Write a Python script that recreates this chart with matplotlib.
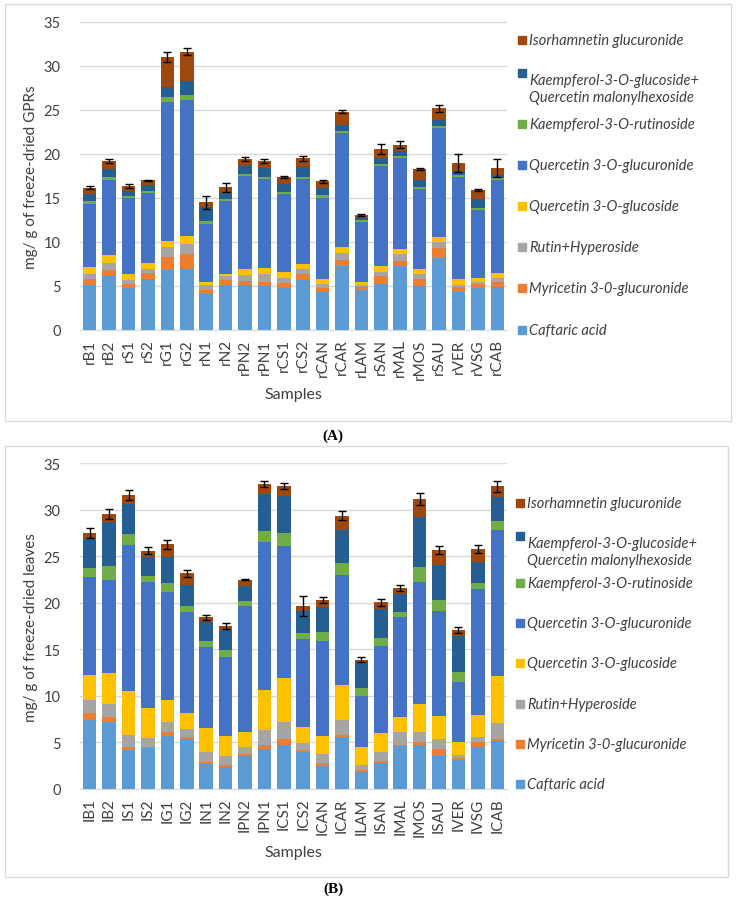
import matplotlib
matplotlib.use("Agg")
import matplotlib.pyplot as plt
from matplotlib.patches import Rectangle
import numpy as np

plt.rcParams['font.family'] = ['Lato', 'DejaVu Sans']

components = ["Caftaric acid", "Myricetin 3-0-glucuronide", "Rutin+Hyperoside",
              "Quercetin 3-O-glucoside", "Quercetin 3-O-glucuronide",
              "Kaempferol-3-O-rutinoside",
              "Kaempferol-3-O-glucoside+\nQuercetin malonylhexoside",
              "Isorhamnetin glucuronide"]
colors = ["#5B9BD5", "#ED7D31", "#A5A5A5", "#FFC000", "#4472C4", "#70AD47", "#255E91", "#9E480E"]

# ---------------- Panel A: grape pomace ----------------
samples_a = ["rB1", "rB2", "rS1", "rS2", "rG1", "rG2", "rN1", "rN2", "rPN2", "rPN1", "rCS1",
             "rCS2", "rCAN", "rCAR", "rLAM", "rSAN", "rMAL", "rMOS", "rSAU", "rVER", "rVSG", "rCAB"]
caft_a = [5.10, 6.12, 4.72, 5.85, 6.80, 6.91, 4.08, 5.10, 5.10, 4.98, 4.72, 5.66, 4.34, 7.25, 4.53, 5.21, 7.25, 5.02, 8.19, 4.34, 4.72, 4.91]
myr_a = [0.64, 0.75, 0.56, 0.64, 1.50, 1.69, 0.52, 0.56, 0.49, 0.49, 0.64, 0.76, 0.38, 0.68, 0.38, 0.91, 0.60, 0.83, 1.13, 0.57, 0.56, 0.56]
rut_a = [0.66, 0.79, 0.38, 0.49, 1.14, 1.20, 0.50, 0.46, 0.71, 0.87, 0.57, 0.56, 0.56, 0.83, 0.19, 0.48, 0.83, 0.49, 0.68, 0.19, 0.12, 0.46]
qglc_a = [0.77, 0.84, 0.68, 0.68, 0.68, 0.88, 0.37, 0.22, 0.68, 0.72, 0.67, 0.57, 0.57, 0.68, 0.37, 0.65, 0.57, 0.57, 0.57, 0.64, 0.53, 0.60]
qglcr_a = [7.18, 8.56, 8.68, 7.93, 15.81, 15.48, 6.61, 8.31, 10.57, 10.12, 8.88, 9.63, 9.17, 12.95, 6.80, 11.36, 10.27, 9.13, 12.38, 11.70, 7.66, 10.46]
krut_a = [0.30, 0.31, 0.19, 0.19, 0.50, 0.57, 0.30, 0.19, 0.19, 0.19, 0.19, 0.26, 0.34, 0.26, 0.19, 0.27, 0.30, 0.19, 0.27, 0.23, 0.30, 0.26]
kglc_a = [0.83, 0.93, 0.64, 0.75, 1.24, 1.51, 1.59, 0.71, 0.87, 1.05, 0.93, 1.13, 0.80, 0.68, 0.30, 0.67, 0.57, 0.76, 0.68, 0.37, 0.95, 0.42]
iso_a = [0.68, 0.88, 0.50, 0.46, 3.36, 3.36, 0.56, 0.68, 0.83, 0.76, 0.77, 0.95, 0.75, 1.47, 0.34, 1.02, 0.67, 1.32, 1.32, 0.95, 1.09, 0.75]
err_a = [0.15, 0.20, 0.25, 0.10, 0.60, 0.40, 0.75, 0.50, 0.25, 0.20, 0.10, 0.30, 0.15, 0.15, 0.10, 0.60, 0.40, 0.15, 0.40, 1.00, 0.10, 1.05]

# ---------------- Panel B: leaves ----------------
samples_b = ["IB1", "IB2", "IS1", "IS2", "IG1", "IG2", "IN1", "IN2", "IPN2", "IPN1", "ICS1",
             "ICS2", "ICAN", "ICAR", "ILAM", "ISAN", "IMAL", "IMOS", "ISAU", "IVER", "IVSG", "ICAB"]
caft_b = [7.41, 7.16, 4.19, 4.40, 5.73, 5.37, 2.69, 2.40, 3.58, 4.30, 4.76, 3.94, 2.43, 5.62, 1.86, 2.76, 4.58, 4.76, 3.58, 3.11, 4.48, 5.19]
myr_b = [0.72, 0.54, 0.29, 0.08, 0.36, 0.18, 0.25, 0.21, 0.18, 0.46, 0.61, 0.28, 0.36, 0.18, 0.22, 0.28, 0.15, 0.25, 0.72, 0.22, 0.53, 0.18]
rut_b = [1.43, 1.43, 1.32, 0.96, 1.14, 0.89, 1.00, 0.97, 0.72, 1.58, 1.79, 0.72, 0.97, 1.61, 0.53, 0.90, 1.36, 1.08, 1.07, 0.32, 0.61, 1.72]
qglc_b = [2.72, 3.33, 4.76, 3.22, 2.37, 1.72, 2.58, 2.15, 1.68, 4.33, 4.76, 1.76, 1.97, 3.76, 1.87, 2.04, 1.68, 3.04, 2.44, 1.43, 2.33, 5.08]
qglcr_b = [10.53, 9.99, 15.68, 13.61, 11.60, 10.82, 8.70, 8.48, 13.53, 15.82, 14.22, 9.41, 10.20, 11.82, 5.55, 9.42, 10.74, 13.07, 11.34, 6.45, 13.53, 15.69]
krut_b = [0.93, 1.54, 1.15, 0.64, 0.93, 0.71, 0.71, 0.72, 0.54, 1.19, 1.32, 0.65, 0.90, 1.25, 0.78, 0.78, 0.54, 1.61, 1.19, 1.00, 0.65, 0.96]
kglc_b = [3.01, 4.65, 3.29, 1.97, 2.75, 2.26, 1.97, 2.15, 1.61, 4.01, 3.98, 2.32, 2.68, 3.62, 2.80, 3.15, 1.90, 5.44, 3.72, 3.94, 2.29, 2.58]
iso_b = [0.75, 0.90, 0.90, 0.72, 1.40, 1.22, 0.54, 0.46, 0.64, 1.07, 1.14, 0.61, 0.83, 1.50, 0.28, 0.72, 0.64, 1.90, 1.61, 0.64, 1.36, 1.11]
err_b = [0.50, 0.50, 0.55, 0.40, 0.50, 0.40, 0.30, 0.30, 0.05, 0.30, 0.30, 1.10, 0.30, 0.50, 0.25, 0.35, 0.35, 0.65, 0.45, 0.30, 0.45, 0.60]

fig = plt.figure(figsize=(7.36, 9.03), dpi=100)

def frame(x0, y0, x1, y1):
    fig.patches.append(Rectangle((x0 / 736, 1 - y1 / 903), (x1 - x0) / 736, (y1 - y0) / 903,
                                 transform=fig.transFigure, fill=False, edgecolor="#D9D9D9", lw=1.0))

def panel(rect, samples, series, err, ylabel, leg_top, leg_x):
    ax = fig.add_axes(rect)
    x = np.arange(len(samples))
    bottom = np.zeros(len(samples))
    for vals, col in zip(series, colors):
        v = np.array(vals)
        ax.bar(x, v, 0.7, bottom=bottom, color=col, zorder=2)
        bottom = bottom + v
    ax.errorbar(x, bottom, yerr=err, fmt="none", ecolor="black", elinewidth=1, capsize=3, capthick=1, zorder=3)
    ax.set_xlim(-0.5, len(samples) - 0.5)
    ax.set_ylim(0, 35)
    ax.set_yticks(range(0, 36, 5))
    ax.set_xticks(x)
    ax.set_xticklabels(samples, rotation=90, fontsize=11, color="#404040")
    ax.tick_params(axis="y", labelsize=10.5, colors="#404040", length=0, pad=14)
    ax.tick_params(axis="x", length=0, pad=6)
    ax.grid(axis="y", color="#D9D9D9", lw=1, zorder=0)
    for s in ["top", "right", "left"]:
        ax.spines[s].set_visible(False)
    ax.spines["bottom"].set_color("#D9D9D9")
    ax.set_ylabel(ylabel, fontsize=11, color="#404040", labelpad=4)
    ax.set_xlabel("Samples", fontsize=11.5, color="#404040", labelpad=6)
    for i, (lab, col) in enumerate(reversed(list(zip(components, colors)))):
        y = leg_top[i]
        fig.patches.append(Rectangle((leg_x / 736, 1 - (y + 4) / 903), 8 / 736, 8 / 903,
                                     transform=fig.transFigure, color=col))
        fig.text((leg_x + 11) / 736, 1 - y / 903, lab, fontsize=10.5, style="italic",
                 color="#404040", va="top" if "\n" in lab else "center", ha="left",
                 linespacing=1.3)
    return ax

frame(5, 5, 731, 422)
frame(5, 447, 728, 878)

leg_a = [41, 74, 125, 166, 207, 248, 289, 331]
leg_b = [504, 537, 584, 624, 664, 705, 745, 785]

rect_a = [80 / 736, 1 - 331 / 903, 427 / 736, 308 / 903]
rect_b = [80 / 736, 1 - 790 / 903, 427 / 736, 325.7 / 903]

panel(rect_a, samples_a, [caft_a, myr_a, rut_a, qglc_a, qglcr_a, krut_a, kglc_a, iso_a], err_a,
      "mg/ g of freeze-dried GPRs", leg_a, 518)
panel(rect_b, samples_b, [caft_b, myr_b, rut_b, qglc_b, qglcr_b, krut_b, kglc_b, iso_b], err_b,
      "mg/ g of freeze-dried leaves", leg_b, 516)

fig.text(333 / 736, 1 - 436 / 903, "(A)", ha="center", va="center", fontsize=11, fontweight="bold",
         family=["Liberation Serif", "DejaVu Serif"])
fig.text(333 / 736, 1 - 889 / 903, "(B)", ha="center", va="center", fontsize=11, fontweight="bold",
         family=["Liberation Serif", "DejaVu Serif"])

fig.savefig("out.png", dpi=100)
